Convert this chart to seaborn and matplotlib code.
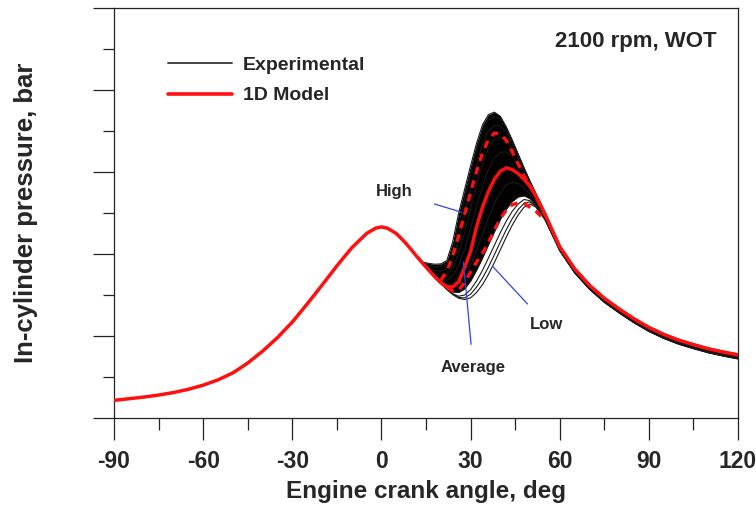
import numpy as np
import pandas as pd
import matplotlib
matplotlib.use("Agg")
import matplotlib.pyplot as plt
from matplotlib.lines import Line2D
from matplotlib.ticker import MultipleLocator
import seaborn as sns

# ---------------- data ----------------
# 1D model, average cycle (full range)
CA_MODEL = [-90, -85, -80, -75, -70, -65, -60, -55, -50, -45, -40, -35, -30, -25, -20, -15, -10, -5, -2, 0,
            2, 5, 8, 10, 12, 15, 18, 20, 22, 24, 26, 28, 30, 32, 34, 36, 38, 40, 42, 44, 46, 48, 50, 52, 55,
            60, 65, 70, 75, 80, 85, 90, 95, 100, 105, 110, 115, 120]
P_MODEL_AVG = [4.3, 4.7, 5.1, 5.6, 6.2, 7.0, 8.0, 9.3, 11.0, 13.4, 16.3, 19.6, 23.4, 27.8, 32.4, 37.1, 41.5, 45.0, 46.3, 46.6,
               46.3, 45.0, 42.8, 41.1, 39.3, 36.8, 34.4, 33.0, 32.0, 32.0, 33.2, 36.7, 40.6, 46.6, 51.4, 55.2, 58.2, 60.2, 61.0, 60.6, 59.6, 58.2, 56.6, 54.2, 49.8,
               41.8, 36.4, 32.4, 29.2, 26.6, 24.2, 22.1, 20.4, 19.0, 17.9, 16.9, 16.1, 15.4]

# 1D model, high cycle (dashed)
CA_MODEL_HIGH = [20, 22, 24, 26, 28, 30, 32, 34, 36, 38, 40, 42, 44, 46, 48, 50, 52, 55]
P_MODEL_HIGH = [33.6, 35.8, 39.5, 44.5, 49.8, 55.0, 60.0, 64.6, 67.9, 69.5, 69.3, 67.7, 65.0, 62.0, 59.0, 56.6, 54.0, 49.6]

# 1D model, low cycle (dashed)
CA_MODEL_LOW = [22, 24, 26, 28, 30, 32, 34, 36, 38, 40, 42, 44, 46, 48, 50, 52, 55]
P_MODEL_LOW = [31.8, 31.0, 31.2, 33.0, 35.6, 38.0, 40.2, 42.8, 45.8, 48.6, 50.7, 52.0, 52.5, 52.3, 51.4, 50.4, 48.3]

# experimental cycles
CA_EXP = [12, 14, 16, 18, 20, 22, 24, 26, 28, 30, 32, 34, 36, 38, 40, 42, 44, 46, 48, 50, 52, 55,
          60, 65, 70, 75, 80, 85, 90, 95, 100, 105, 110, 115, 120]
P_CYC_01 = [39.6, 38.0, 37.7, 37.5, 37.6, 38.4, 43.0, 50.0, 55.8, 61.5, 67.0, 71.5, 74.0, 74.6, 73.6, 71.0, 67.8, 64.4, 61.0, 57.8, 54.7, 50.2,
            42.0, 36.6, 32.6, 29.4, 26.8, 24.4, 22.3, 20.6, 19.2, 18.1, 17.1, 16.3, 15.6]
P_CYC_02 = [39.5, 37.8, 37.2, 36.8, 36.9, 37.6, 41.0, 47.0, 53.5, 59.8, 65.5, 70.0, 72.8, 73.5, 73.0, 70.8, 67.7, 64.3, 60.9, 57.7, 54.6, 50.1,
            41.9, 36.5, 32.5, 29.3, 26.7, 24.3, 22.2, 20.5, 19.1, 18.0, 17.0, 16.2, 15.5]
P_CYC_03 = [39.5, 37.7, 36.6, 35.9, 35.8, 36.4, 38.8, 43.5, 49.5, 55.8, 61.8, 66.8, 70.0, 71.4, 71.3, 69.8, 67.2, 64.0, 60.7, 57.5, 54.5, 50.0,
            41.8, 36.4, 32.4, 29.2, 26.6, 24.2, 22.1, 20.4, 19.0, 17.9, 16.9, 16.1, 15.4]
P_CYC_04 = [39.5, 37.6, 36.2, 35.2, 34.8, 35.0, 36.6, 40.2, 45.2, 51.0, 56.8, 62.0, 65.8, 68.0, 68.5, 67.6, 65.8, 63.2, 60.2, 57.2, 54.3, 49.9,
            41.6, 36.2, 32.2, 29.0, 26.4, 24.0, 21.9, 20.2, 18.8, 17.7, 16.7, 15.9, 15.2]
P_CYC_05 = [39.5, 37.6, 36.0, 34.6, 33.8, 33.6, 34.6, 37.2, 41.2, 46.2, 51.6, 56.6, 60.6, 63.4, 64.8, 64.9, 63.8, 61.8, 59.3, 56.6, 53.9, 49.7,
            41.4, 36.0, 32.0, 28.8, 26.2, 23.8, 21.7, 20.0, 18.6, 17.5, 16.5, 15.7, 15.0]
P_CYC_06 = [39.5, 37.6, 35.9, 34.4, 33.2, 32.6, 32.9, 34.4, 37.3, 41.3, 46.0, 50.8, 55.0, 58.2, 60.2, 61.0, 60.6, 59.4, 57.7, 55.6, 53.3, 49.4,
            41.2, 35.8, 31.8, 28.6, 26.0, 23.6, 21.5, 19.8, 18.4, 17.3, 16.3, 15.5, 14.8]
P_CYC_07 = [39.5, 37.6, 35.9, 34.3, 32.9, 31.9, 31.6, 32.3, 34.2, 37.2, 40.8, 44.8, 48.8, 52.3, 55.0, 56.8, 57.5, 57.2, 56.2, 54.6, 52.6, 49.0,
            41.0, 35.6, 31.6, 28.4, 25.8, 23.4, 21.3, 19.6, 18.2, 17.1, 16.1, 15.3, 14.6]
P_CYC_08 = [39.5, 37.6, 35.9, 34.3, 32.8, 31.5, 30.7, 30.6, 31.5, 33.4, 36.0, 39.0, 42.2, 45.4, 48.4, 50.9, 52.8, 53.9, 54.2, 53.5, 52.0, 48.7,
            40.8, 35.4, 31.4, 28.2, 25.6, 23.2, 21.1, 19.4, 18.0, 16.9, 15.9, 15.1, 14.4]
P_CYC_09 = [39.5, 37.6, 35.9, 34.3, 32.8, 31.4, 30.3, 29.7, 30.0, 31.3, 33.4, 36.0, 39.0, 42.1, 45.2, 48.0, 50.4, 52.2, 53.3, 53.0, 51.8, 48.6,
            40.9, 35.5, 31.5, 28.3, 25.7, 23.3, 21.2, 19.5, 18.1, 17.0, 16.0, 15.2, 14.5]
P_CYC_10 = [39.5, 37.6, 35.9, 34.3, 32.8, 31.4, 30.2, 29.4, 29.3, 30.2, 31.9, 34.1, 36.8, 39.8, 42.9, 45.9, 48.6, 50.8, 52.4, 52.7, 51.6, 48.5,
            40.9, 35.5, 31.5, 28.3, 25.7, 23.3, 21.2, 19.5, 18.1, 17.0, 16.0, 15.2, 14.5]
P_CYC_11 = [39.5, 37.6, 35.9, 34.3, 32.8, 31.4, 30.1, 29.2, 28.9, 29.3, 30.6, 32.5, 35.0, 37.9, 41.0, 44.1, 47.0, 49.5, 51.4, 52.2, 51.4, 48.4,
            40.9, 35.5, 31.5, 28.3, 25.7, 23.3, 21.2, 19.5, 18.1, 17.0, 16.0, 15.2, 14.5]

CORE_CYCLES = [P_CYC_01, P_CYC_02, P_CYC_03, P_CYC_04, P_CYC_05, P_CYC_06, P_CYC_07, P_CYC_08]
LOW_CYCLES = [P_CYC_09, P_CYC_10, P_CYC_11]

X_TICKS = [-90, -60, -30, 0, 30, 60, 90, 120]
X_TICK_LABELS = ["-90", "-60", "-30", "0", "30", "60", "90", "120"]
LEGEND_LABELS = ["Experimental", "1D Model"]
X_LABEL = "Engine crank angle, deg"
Y_LABEL = "In-cylinder pressure, bar"
CONDITION = "2100 rpm, WOT"

# ---------------- style ----------------
sns.set_theme(style="ticks")
plt.rcParams["font.family"] = ["Liberation Sans", "DejaVu Sans"]
plt.rcParams["font.weight"] = "bold"

fig = plt.figure(figsize=(7.56, 5.05), dpi=100)
ax = fig.add_axes([114 / 756, 1 - 418 / 505, 624 / 756, 410 / 505])

RED = "#ff1010"

# experimental cycles
all_cycles = CORE_CYCLES + LOW_CYCLES
df_exp = pd.DataFrame({
    "angle": np.tile(CA_EXP, len(all_cycles)),
    "pressure": np.concatenate(all_cycles),
    "cycle": np.repeat(np.arange(len(all_cycles)), len(CA_EXP)),
})
core = np.array(CORE_CYCLES)
ax.fill_between(CA_EXP, core.min(axis=0), core.max(axis=0), color="black", lw=0, zorder=2)
sns.lineplot(data=df_exp, x="angle", y="pressure", units="cycle", estimator=None,
             color="#1a1a1a", lw=0.8, legend=False, ax=ax, zorder=2.2)

# model curves
df_avg = pd.DataFrame({"angle": CA_MODEL, "pressure": P_MODEL_AVG})
df_high = pd.DataFrame({"angle": CA_MODEL_HIGH, "pressure": P_MODEL_HIGH})
df_low = pd.DataFrame({"angle": CA_MODEL_LOW, "pressure": P_MODEL_LOW})
sns.lineplot(data=df_high, x="angle", y="pressure", color=RED, lw=2.4, ax=ax, zorder=3.1)
sns.lineplot(data=df_low, x="angle", y="pressure", color=RED, lw=2.4, ax=ax, zorder=3.1)
for ln in ax.get_lines()[-2:]:
    ln.set_dashes((2.3, 1.9))
sns.lineplot(data=df_avg, x="angle", y="pressure", color=RED, lw=2.5, ax=ax, zorder=3.2)

# axes
ax.set_xlim(-90, 120)
ax.set_ylim(0, 100)
ax.set_xticks(X_TICKS)
ax.set_xticklabels(X_TICK_LABELS)
ax.xaxis.set_minor_locator(MultipleLocator(15))
ax.yaxis.set_major_locator(MultipleLocator(20))
ax.yaxis.set_minor_locator(MultipleLocator(10))
ax.tick_params(axis="x", which="major", direction="out", length=16, width=0.9, color="#222222",
               labelsize=16.5, pad=7)
ax.tick_params(axis="x", which="minor", direction="out", length=8.5, width=0.9, color="#222222")
ax.tick_params(axis="y", which="major", direction="out", length=15, width=0.9, color="#222222",
               labelleft=False)
ax.tick_params(axis="y", which="minor", direction="out", length=8, width=0.9, color="#222222")
for lab in ax.get_xticklabels():
    lab.set_fontweight("bold")
for side in ["left", "right", "top", "bottom"]:
    ax.spines[side].set_visible(True)
    ax.spines[side].set_linewidth(0.9)
    ax.spines[side].set_color("#222222")

ax.set_xlabel(X_LABEL, fontsize=17.5, fontweight="bold", labelpad=5)
ax.set_ylabel(Y_LABEL, fontsize=18.5, fontweight="bold")
ax.yaxis.set_label_coords(-0.121, 0.5)

# legend
handles = [Line2D([], [], color="#444444", lw=1.4), Line2D([], [], color=RED, lw=2.6)]
leg = ax.legend(handles, LEGEND_LABELS, loc="upper left", bbox_to_anchor=(0.0865, 0.883),
                frameon=False, borderpad=0, borderaxespad=0, handlelength=3.3,
                handletextpad=0.55, labelspacing=0.68, prop={"size": 14, "weight": "bold"})

ax.text(0.966, 0.9195, CONDITION, transform=ax.transAxes, ha="right", va="center",
        fontsize=16, fontweight="bold")

# annotations
ann_color = "#3344dd"
ax.annotate("High", xy=(26.9, 50.2), xytext=(4.3, 55.2), ha="center", va="center",
            fontsize=12, fontweight="bold",
            arrowprops=dict(arrowstyle="-", color=ann_color, lw=0.9, shrinkA=14, shrinkB=0),
            zorder=5)
ax.annotate("Average", xy=(27.6, 38.0), xytext=(30.9, 12.3), ha="center", va="center",
            fontsize=12, fontweight="bold",
            arrowprops=dict(arrowstyle="-", color=ann_color, lw=0.9, shrinkA=9, shrinkB=0),
            zorder=5)
ax.annotate("Low", xy=(37.4, 37.0), xytext=(55.7, 22.7), ha="center", va="center",
            fontsize=12, fontweight="bold",
            arrowprops=dict(arrowstyle="-", color=ann_color, lw=0.9, shrinkA=10, shrinkB=0),
            zorder=5)

fig.savefig("out.png", dpi=100)
